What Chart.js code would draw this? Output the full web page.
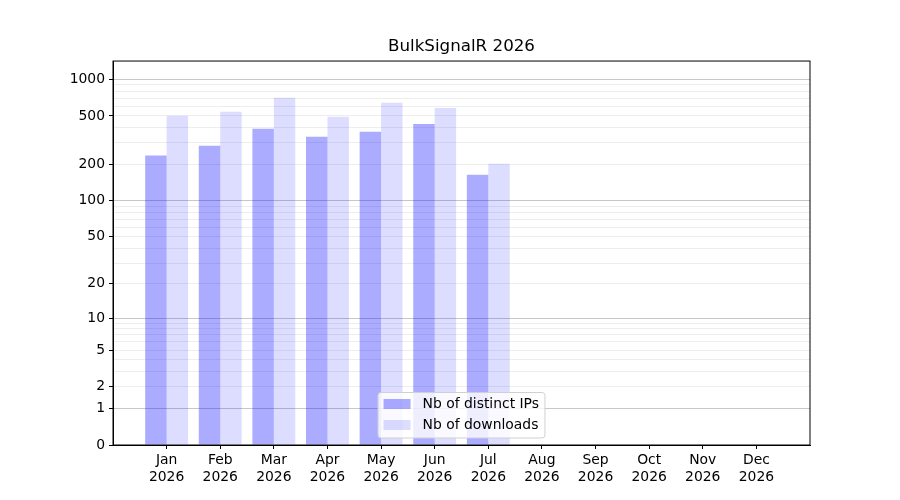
<!DOCTYPE html>
<html>
<head>
	<meta http-equiv="Content-Type" content="text/html; charset=utf-8"/>
	<script type="text/javascript" src="https://cdn.jsdelivr.net/npm/chart.js@4/dist/chart.umd.min.js"></script>
	<style type="text/css">
		body { margin: 0; background: #fff; }
		#chart { display: block; }
	</style>
</head>
<body>
	<canvas id="chart" width="900" height="500"></canvas>
	<script type="text/javascript">
		// datos
		var meses = ["Jan", "Feb", "Mar", "Apr", "May", "Jun", "Jul", "Aug", "Sep", "Oct", "Nov", "Dec"];
		var anio = "2026";
		var ips = [236, 284, 392, 337, 370, 430, 164];
		var descargas = [501, 540, 704, 491, 640, 582, 202];
		var etiquetasY = [0, 1, 2, 5, 10, 20, 50, 100, 200, 500, 1000];
		var mayoresY = [1, 10, 100, 1000];

		var fuente = "'DejaVu Sans', sans-serif";
		var colorIps = "rgba(0,0,255,0.33)";
		var colorDescargas = "rgba(0,0,255,0.135)";

		// escala symlog: log10(v+1)
		function trans(v) { return Math.log10(v + 1); }

		function puntos(valores) {
			var res = [];
			for (var i = 0; i < valores.length; i++) {
				res.push({x: i, y: trans(valores[i])});
			}
			return res;
		}

		function valoresY() {
			var vals = etiquetasY.slice();
			for (var d = 1; d <= 100; d *= 10) {
				for (var k = 2; k <= 9; k++) {
					if (vals.indexOf(k * d) < 0) vals.push(k * d);
				}
			}
			vals.sort(function(a, b) { return a - b; });
			return vals;
		}

		function buscarValor(pos) {
			var vals = valoresY();
			for (var i = 0; i < vals.length; i++) {
				if (Math.abs(trans(vals[i]) - pos) < 1e-9) return vals[i];
			}
			return null;
		}

		var marcoYLeyenda = {
			id: "marcoYLeyenda",
			afterDraw: function(chart) {
				var ctx = chart.ctx, a = chart.chartArea;
				ctx.save();
				ctx.strokeStyle = "#000";
				ctx.lineWidth = 1;
				ctx.strokeRect(a.left, a.top, a.right - a.left, a.bottom - a.top);

				// leyenda
				var items = [
					{texto: "Nb of distinct IPs", color: colorIps},
					{texto: "Nb of downloads", color: colorDescargas}
				];
				ctx.font = "13.9px " + fuente;
				var anchoTexto = 0;
				items.forEach(function(it) {
					anchoTexto = Math.max(anchoTexto, ctx.measureText(it.texto).width);
				});
				var w = 5.5 + 27 + 12 + anchoTexto + 6;
				var h = 45.5;
				var x0 = (a.left + a.right) / 2 - w / 2;
				var y0 = a.bottom - 7 - h;
				var r = 3;
				ctx.beginPath();
				ctx.moveTo(x0 + r, y0);
				ctx.arcTo(x0 + w, y0, x0 + w, y0 + h, r);
				ctx.arcTo(x0 + w, y0 + h, x0, y0 + h, r);
				ctx.arcTo(x0, y0 + h, x0, y0, r);
				ctx.arcTo(x0, y0, x0 + w, y0, r);
				ctx.closePath();
				ctx.fillStyle = "rgba(255,255,255,0.8)";
				ctx.fill();
				ctx.strokeStyle = "#d0d0d0";
				ctx.stroke();

				ctx.textBaseline = "middle";
				ctx.textAlign = "left";
				items.forEach(function(it, i) {
					var cy = y0 + 11.5 + i * 21;
					ctx.fillStyle = it.color;
					ctx.fillRect(x0 + 5.5, cy - 5, 27, 10);
					ctx.fillStyle = "#000";
					ctx.fillText(it.texto, x0 + 5.5 + 27 + 12, cy + 0.5);
				});
				ctx.restore();
			}
		};

		function dibujar() {
			var canvas = document.getElementById("chart").getContext("2d");
			Chart.defaults.color = "#000";
			Chart.defaults.font.family = fuente;
			window.bar = new Chart(canvas, {
				type: "bar",
				data: {
					datasets: [
						{label: "Nb of distinct IPs", data: puntos(ips), backgroundColor: colorIps, borderWidth: 0},
						{label: "Nb of downloads", data: puntos(descargas), backgroundColor: colorDescargas, borderWidth: 0}
					]
				},
				options: {
					responsive: false,
					animation: false,
					devicePixelRatio: 1,
					layout: { padding: {left: 13, right: 90, top: 0, bottom: 0} },
					categoryPercentage: 0.8,
					barPercentage: 1.0,
					plugins: {
						legend: { display: false },
						tooltip: { enabled: false },
						title: {
							display: true,
							fullSize: false,
							text: "BulkSignalR 2026",
							color: "#000",
							font: { size: 16.7, weight: "normal", family: fuente },
							padding: { top: 37, bottom: 4 }
						}
					},
					scales: {
						x: {
							type: "linear",
							min: -1,
							max: 12,
							offset: false,
							afterBuildTicks: function(scale) {
								scale.ticks = meses.map(function(m, i) { return {value: i}; });
							},
							afterFit: function(scale) { scale.height = 55; },
							ticks: {
								autoSkip: false,
								maxRotation: 0,
								padding: 3.5,
								font: { size: 13.9 },
								callback: function(v) {
									return meses[v] ? [meses[v], anio] : "";
								}
							},
							grid: { display: true, offset: false, drawOnChartArea: false, drawTicks: true, tickLength: 4, tickColor: "#000" },
							border: { display: true, color: "#000" }
						},
						y: {
							type: "linear",
							min: 0,
							max: 3.15,
							afterBuildTicks: function(scale) {
								scale.ticks = valoresY().map(function(v) { return {value: trans(v)}; });
							},
							afterFit: function(scale) { scale.width = 100; },
							ticks: {
								autoSkip: false,
								padding: 4,
								font: { size: 13.9 },
								callback: function(pos) {
									var v = buscarValor(pos);
									return etiquetasY.indexOf(v) >= 0 ? String(v) : "";
								}
							},
							grid: {
								drawTicks: true,
								tickLength: 4,
								color: function(c) {
									var v = buscarValor(c.tick.value);
									if (v === 0) return "rgba(0,0,0,0)";
									return mayoresY.indexOf(v) >= 0 ? "rgba(0,0,0,0.22)" : "rgba(0,0,0,0.07)";
								},
								tickColor: function(c) {
									var v = buscarValor(c.tick.value);
									return etiquetasY.indexOf(v) >= 0 ? "#000" : "rgba(0,0,0,0)";
								}
							},
							border: { display: true, color: "#000" }
						}
					}
				},
				plugins: [marcoYLeyenda]
			});
		}
		dibujar();
	</script>
</body>
</html>
